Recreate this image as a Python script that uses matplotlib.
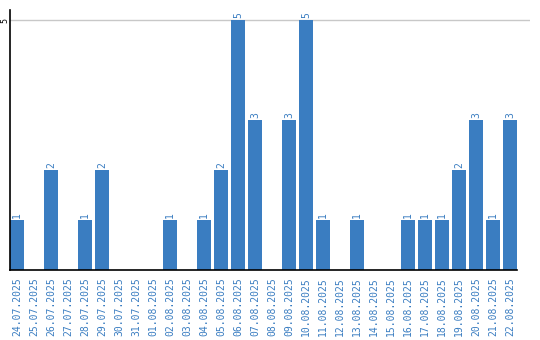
import matplotlib
matplotlib.use('Agg')
import matplotlib.pyplot as plt

dates = ['24.07.2025', '25.07.2025', '26.07.2025', '27.07.2025', '28.07.2025',
         '29.07.2025', '30.07.2025', '31.07.2025', '01.08.2025', '02.08.2025',
         '03.08.2025', '04.08.2025', '05.08.2025', '06.08.2025', '07.08.2025',
         '08.08.2025', '09.08.2025', '10.08.2025', '11.08.2025', '12.08.2025',
         '13.08.2025', '14.08.2025', '15.08.2025', '16.08.2025', '17.08.2025',
         '18.08.2025', '19.08.2025', '20.08.2025', '21.08.2025', '22.08.2025']
counts = [1, 0, 2, 0, 1, 2, 0, 0, 0, 1,
          0, 1, 2, 5, 3, 0, 3, 5, 1, 0,
          1, 0, 0, 1, 1, 1, 2, 3, 1, 3]

blue = '#3a7dc1'
W, H = 540, 340
fig = plt.figure(figsize=(W / 100, H / 100), dpi=100)
ax = fig.add_axes([10 / W, 70 / H, 520 / W, 260 / H])

xs = list(range(len(dates)))
bw = 14 / 17
ax.bar(xs, counts, width=bw, color=blue, zorder=2)
for x, c in zip(xs, counts):
    if c > 0:
        ax.text(x, c + 0.04, str(c), rotation=90, ha='center', va='bottom',
                color=blue, fontsize=7, family='DejaVu Sans Mono')

ax.set_xlim(-bw / 2, -bw / 2 + 520 / 17)
ax.set_ylim(0, 5.2)
ax.axhline(5, color='#c8c8c8', lw=1, zorder=1)

ax.set_yticks([5])
ax.set_yticklabels(['5'], rotation=90, va='center', fontsize=6,
                   family='DejaVu Sans Mono')
ax.tick_params(axis='y', length=0, pad=0.5)
ax.set_xticks(xs)
ax.set_xticklabels(dates, rotation=90, color=blue, fontsize=7,
                   family='DejaVu Sans Mono')
ax.tick_params(axis='x', length=0, pad=5)

for s in ['top', 'right']:
    ax.spines[s].set_visible(False)
ax.spines['left'].set_linewidth(1.2)
ax.spines['bottom'].set_linewidth(1.2)
ax.spines['bottom'].set_bounds(-bw / 2, -bw / 2 + 507 / 17)

fig.savefig('out.png', dpi=100)
